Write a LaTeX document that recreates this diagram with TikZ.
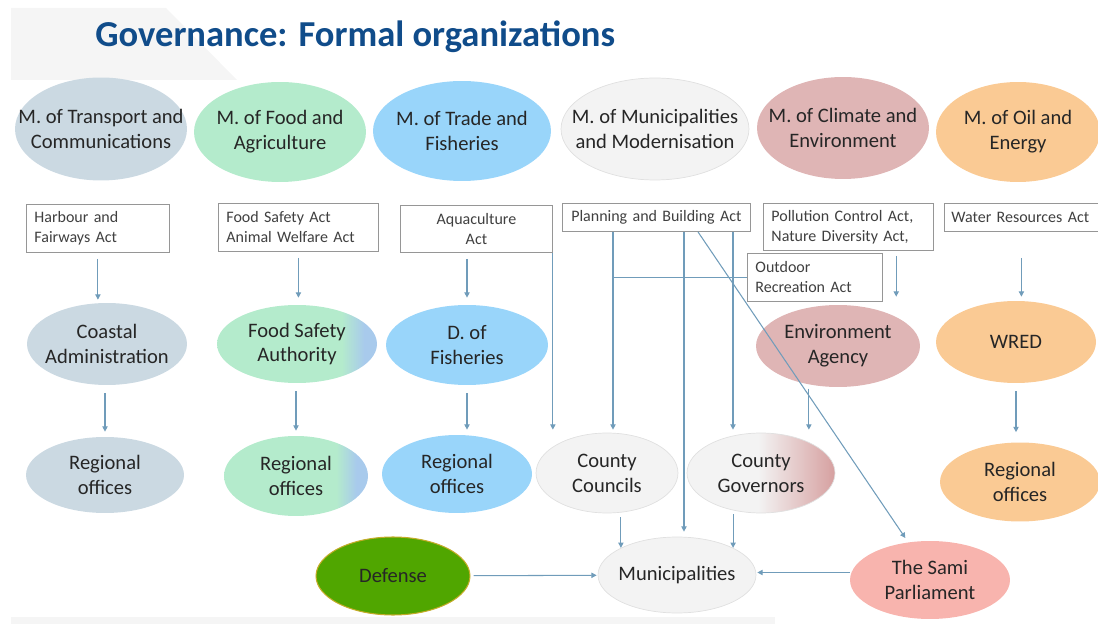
\documentclass[tikz,border=0pt]{standalone}
\usepackage{fontspec}
\setmainfont{Carlito}
\usetikzlibrary{shapes.geometric,arrows.meta}

\definecolor{titleblue}{RGB}{16,76,138}
\definecolor{slidegrey}{RGB}{245,245,245}
\definecolor{transgrey}{RGB}{203,217,226}
\definecolor{foodgreen}{RGB}{180,235,204}
\definecolor{fsablue}{RGB}{168,202,236}
\definecolor{tradeblue}{RGB}{153,213,250}
\definecolor{municgrey}{RGB}{243,243,243}
\definecolor{rimgrey}{RGB}{224,224,224}
\definecolor{climrose}{RGB}{223,181,181}
\definecolor{govrose}{RGB}{214,160,160}
\definecolor{oilorange}{RGB}{250,202,148}
\definecolor{samipink}{RGB}{248,180,174}
\definecolor{defgreen}{RGB}{80,166,0}
\definecolor{defrim}{RGB}{196,172,40}
\definecolor{linkblue}{RGB}{112,156,186}
\definecolor{boxgrey}{RGB}{150,150,150}
\definecolor{orgtext}{RGB}{38,38,38}
\definecolor{acttext}{RGB}{64,64,64}

\pgfdeclarehorizontalshading{greentoblue}{100bp}{color(0bp)=(foodgreen); color(64bp)=(foodgreen); color(71bp)=(fsablue); color(100bp)=(fsablue)}
\pgfdeclarehorizontalshading{greytorose}{100bp}{color(0bp)=(municgrey); color(49bp)=(municgrey); color(75bp)=(govrose); color(100bp)=(govrose)}

\tikzset{
  organ/.style={ellipse, inner xsep=-2cm, inner ysep=-1cm, align=center, text=orgtext,
    font=\fontsize{11.7}{14.2}\selectfont},
  actbox/.style={rectangle, draw=boxgrey, line width=0.5pt, fill=white,
    inner xsep=0.16cm, inner ysep=0pt, anchor=north west, align=left,
    text=acttext, font=\fontsize{9.1}{11.4}\selectfont},
  link/.style={draw=linkblue, line width=0.6pt, -{Triangle[length=3pt,width=3pt]}},
  bar/.style={draw=linkblue, line width=0.6pt},
}

\begin{document}
\begin{tikzpicture}[x=0.02cm, y=-0.02cm]
\useasboundingbox (0,0) rectangle (1098,624);

% Drawing the slide remnants
\fill[slidegrey] (11,8) -- (166,8) -- (237,80) -- (11,80) -- cycle;%
\fill[slidegrey] (11,617) rectangle (775,624);%

% Title
\node[anchor=base west, inner sep=0pt, text=titleblue, font=\fontsize{20.8}{25}\selectfont\bfseries] (title) at (95,47) {Governance: Formal organizations};%

% Drawing the ministries
\node[organ, fill=transgrey, minimum width=3.44cm, minimum height=2.06cm] (mtrans) at (101,129) {M. of Transport and\\Communications};%
\node[organ, fill=foodgreen, minimum width=3.44cm, minimum height=2.0cm] (mfood) at (280,132) {M. of Food and\\Agriculture};%
\node[organ, fill=tradeblue, minimum width=3.56cm, minimum height=2.0cm] (mtrade) at (462,131) {M. of Trade and\\Fisheries};%
\node[organ, fill=municgrey, draw=rimgrey, minimum width=3.76cm, minimum height=2.04cm] (mmunic) at (655,129) {M. of Municipalities\\and Modernisation};%
\node[organ, fill=climrose, minimum width=3.44cm, minimum height=2.04cm] (mclim) at (843,128) {M. of Climate and\\Environment};%
\node[organ, fill=oilorange, minimum width=3.28cm, minimum height=2.0cm] (moil) at (1018,132) {M. of Oil and\\Energy};%

% Drawing the acts
\node[actbox, text width=2.54cm, minimum height=0.96cm] (harbour) at (26,204) {Harbour and\\Fairways Act};%
\node[actbox, text width=2.88cm, minimum height=0.96cm] (foodact) at (218,203) {Food Safety Act\\Animal Welfare Act};%
\node[actbox, text width=2.72cm, minimum height=0.94cm, align=center] (aqua) at (400,205) {Aquaculture\\Act};%
\node[actbox, text width=3.44cm, minimum height=0.56cm, align=center] (planning) at (562,203) {Planning and Building Act};%
\node[actbox, text width=3.08cm, minimum height=0.94cm] (pollution) at (763,203) {Pollution Control Act,\\Nature Diversity Act,};%
\node[actbox, text width=2.8cm, minimum height=0.56cm, inner xsep=0.14cm] (water) at (944,203) {Water Resources Act};%
\node[actbox, text width=2.38cm, minimum height=0.96cm] (outdoor) at (747,253) {Outdoor\\Recreation Act};%

% Drawing the agencies
\node[organ, fill=transgrey, minimum width=3.2cm, minimum height=1.64cm] (coastal) at (107,344) {Coastal\\Administration};%
\node[organ, shade, shading=greentoblue, minimum width=3.2cm, minimum height=1.56cm] (fsa) at (297,344) {Food Safety\\Authority};%
\node[organ, fill=tradeblue, minimum width=3.24cm, minimum height=1.6cm] (dof) at (467,345) {D. of\\Fisheries};%
\node[organ, fill=climrose, minimum width=3.28cm, minimum height=1.64cm] (envag) at (838,346) {Environment\\Agency};%
\node[organ, fill=oilorange, minimum width=3.2cm, minimum height=1.64cm] (wred) at (1016,342) {WRED};%

% Drawing the regional level
\node[organ, fill=transgrey, minimum width=3.16cm, minimum height=1.52cm] (reg1) at (105,475) {Regional\\offices};%
\node[organ, shade, shading=greentoblue, minimum width=2.88cm, minimum height=1.6cm] (reg2) at (296,476) {Regional\\offices};%
\node[organ, fill=tradeblue, minimum width=3.0cm, minimum height=1.56cm] (reg3) at (457,474) {Regional\\offices};%
\node[organ, fill=municgrey, draw=rimgrey, minimum width=2.84cm, minimum height=1.6cm] (councils) at (607,473) {County\\Councils};%
\node[organ, shade, shading=greytorose, draw=rimgrey, minimum width=2.96cm, minimum height=1.6cm] (governors) at (761,473) {County\\Governors};%
\node[organ, fill=oilorange, minimum width=3.2cm, minimum height=1.58cm] (reg6) at (1020,482) {Regional\\offices};%

% Drawing the local level
\node[organ, fill=defgreen, draw=defrim, line width=0.6pt, text=black!85, minimum width=3.08cm, minimum height=1.56cm] (defense) at (393,576) {Defense};%
\node[organ, fill=municgrey, draw=rimgrey, minimum width=3.16cm, minimum height=1.52cm] (munic) at (677,575) {Municipalities};%
\node[organ, fill=samipink, minimum width=3.2cm, minimum height=1.56cm] (sami) at (930,580) {The Sami\\Parliament};%

% Acts to agencies
\draw[link, shorten <=0.12cm, shorten >=0.06cm] (harbour) -- (harbour |- coastal.north);%
\draw[link, shorten <=0.12cm, shorten >=0.14cm] (foodact) -- (foodact |- fsa.north);%
\draw[link, shorten <=0.12cm, shorten >=0.14cm] (dof.north |- aqua.south) -- (dof.north);%
\draw[link, shorten <=0.1cm, shorten >=0.16cm] (envag.north east |- pollution.south) -- (envag.north east |- envag.north);%
\draw[link, shorten <=0.52cm, shorten >=0.08cm] (water) -- (water |- wred.north);%

% Agencies to regional offices
\draw[link, shorten <=0.16cm, shorten >=0.1cm] (reg1.north |- coastal.south) -- (reg1.north);%
\draw[link, shorten <=0.16cm, shorten >=0.1cm] (reg2.north |- fsa.south) -- (reg2.north);%
\draw[link, shorten <=0.16cm, shorten >=0.1cm] (dof) -- (dof |- reg3.north);%
\draw[link, shorten <=0.16cm, shorten >=0.2cm] (wred) -- (wred |- reg6.north);%
\draw[link, shorten <=0.08cm, shorten >=0.06cm] (envag.233) -- (envag.233 |- governors.north);%

% Planning and Building Act
\coordinate (pbA) at ([xshift=1.02cm]planning.south west);%
\coordinate (pbB) at ([xshift=2.44cm]planning.south west);%
\coordinate (pbD) at ([xshift=2.72cm]planning.south west);%
\coordinate (pbC) at ([xshift=3.42cm]planning.south west);%
\draw[link, shorten >=0.06cm] (pbA) -- (pbA |- councils.north);%
\draw[bar] (pbA |- outdoor.west) -- (outdoor.west);%
\draw[link, shorten >=0.1cm] (pbB) -- (pbB |- munic.north);%
\draw[link, shorten >=0.06cm] (pbC) -- (pbC |- governors.north);%
\draw[link, shorten >=0.1cm] (pbD) -- (sami.120);%
\draw[link, shorten >=0.06cm] (aqua.south east) -- (aqua.south east |- councils.north);%

% Into the municipalities
\draw[link, shorten <=0.08cm] (munic.north west |- councils.south) -- (munic.north west);%
\draw[link, shorten <=0.02cm] (munic.north east |- governors.south) -- (munic.north east);%
\draw[link, shorten <=0.06cm, shorten >=0.02cm] (defense) -- (munic);%
\draw[link, shorten >=0.02cm] ([yshift=0.05cm]munic.east -| sami.west) -- ([yshift=0.05cm]munic.east);%
\end{tikzpicture}
\end{document}
